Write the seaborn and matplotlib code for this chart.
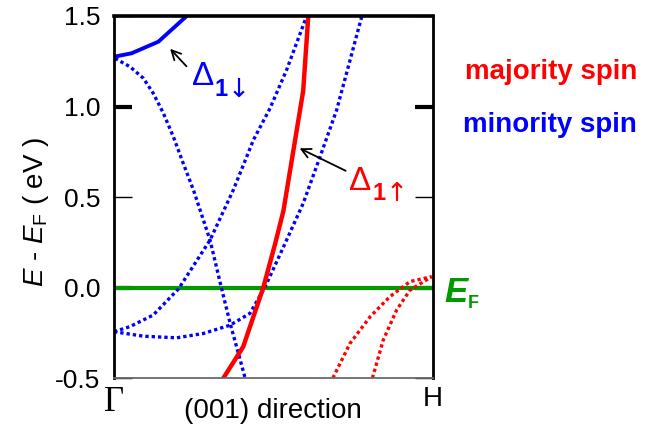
import numpy as np
import pandas as pd
import matplotlib
matplotlib.use("Agg")
import matplotlib.pyplot as plt
import seaborn as sns

# Band dispersion along Gamma -> H (k as fraction of the path), energies in eV
delta1_dn_k = [0.0, 0.055, 0.139, 0.228]
delta1_dn_e = [1.275, 1.294, 1.358, 1.50]

minority_a_k = [0.003, 0.050, 0.092, 0.123, 0.155, 0.186, 0.217, 0.249, 0.301, 0.337, 0.364, 0.411]
minority_a_e = [1.266, 1.220, 1.156, 1.073, 0.962, 0.833, 0.686, 0.539, 0.262, -0.004, -0.198, -0.50]

minority_b_k = [0.0, 0.050, 0.123, 0.202, 0.301, 0.374, 0.437, 0.489, 0.541, 0.604]
minority_b_e = [-0.244, -0.216, -0.152, -0.008, 0.262, 0.539, 0.815, 0.990, 1.202, 1.50]

minority_c_k = [0.0, 0.092, 0.196, 0.280, 0.364, 0.426, 0.468, 0.489, 0.541, 0.593, 0.646, 0.698, 0.740, 0.777]
minority_c_e = [-0.244, -0.269, -0.278, -0.254, -0.208, -0.143, -0.014, 0.062, 0.262, 0.465, 0.723, 0.981, 1.257, 1.50]

delta1_up_k = [0.343, 0.405, 0.468, 0.505, 0.531, 0.562, 0.593, 0.609]
delta1_up_e = [-0.50, -0.327, 0.0, 0.241, 0.423, 0.754, 1.086, 1.50]

majority_a_k = [0.686, 0.740, 0.803, 0.865, 0.928, 0.996]
majority_a_e = [-0.50, -0.308, -0.161, -0.050, 0.033, 0.060]

majority_b_k = [0.810, 0.844, 0.886, 0.928, 0.996]
majority_b_e = [-0.50, -0.290, -0.124, -0.014, 0.060]

y_major = [0.0, 1.0]
y_minor = [-0.5, 0.5, 1.5]
k_points = [0.0, 1.0]
k_labels = ["Γ", "H"]

sns.set_theme(style="white")
plt.rcParams["font.family"] = ["Liberation Sans", "DejaVu Sans"]
plt.rcParams["mathtext.fontset"] = "custom"
plt.rcParams["mathtext.rm"] = "Liberation Sans"
plt.rcParams["mathtext.it"] = "Liberation Sans:italic"
plt.rcParams["mathtext.bf"] = "Liberation Sans:bold:italic"

BLUE = "#0000ff"
RED = "#ff0000"
GREEN = "#009a00"

fig = plt.figure(figsize=(6.5, 4.3), dpi=100)
ax = fig.add_axes([0.1754, 0.1209, 0.4908, 0.8419])

dot = (0, (1, 0.9))


def band(k, e, color, lw, ls="-"):
    df = pd.DataFrame({"k": k, "E": e})
    sns.lineplot(data=df, x="k", y="E", ax=ax, color=color, lw=lw,
                 linestyle=ls, sort=False, estimator=None, legend=False)


ax.axhline(0.0, color=GREEN, lw=3, zorder=1)

band(minority_a_k, minority_a_e, BLUE, 2.4, dot)
band(minority_b_k, minority_b_e, BLUE, 2.4, dot)
band(minority_c_k, minority_c_e, BLUE, 2.4, dot)
band(majority_a_k, majority_a_e, RED, 2.4, dot)
band(majority_b_k, majority_b_e, RED, 2.4, dot)
band(delta1_dn_k, delta1_dn_e, BLUE, 2.8)
band(delta1_up_k, delta1_up_e, RED, 3.2)

ax.set_xlim(0, 1)
ax.set_ylim(-0.5, 1.5)

# Ticks: thick majors at 0 and 1, thin minors at the half-integers
ax.set_yticks(y_major)
ax.set_yticks(y_minor, minor=True)
ax.set_yticklabels([f"{v:.1f}" for v in y_major])
ax.set_yticklabels([f"{v:.1f}" for v in y_minor], minor=True)
ax.tick_params(axis="y", which="major", direction="in", length=13, width=3,
               left=True, right=True, labelsize=19, pad=10, colors="black")
ax.tick_params(axis="y", which="minor", direction="in", length=13, width=1,
               left=True, right=True, labelsize=19, pad=10, colors="black")
ax.set_xticks(k_points)
ax.set_xticklabels(k_labels)
ax.tick_params(axis="x", length=0, labelsize=20, pad=6, colors="black")
ax.get_xticklabels()[0].set_fontfamily("Liberation Serif")
ax.get_xticklabels()[0].set_fontsize(25)

for side in ["left", "right", "top", "bottom"]:
    ax.spines[side].set_visible(True)
ax.spines["top"].set_linewidth(2.6)
ax.spines["top"].set_color("black")
ax.spines["left"].set_linewidth(2.0)
ax.spines["left"].set_color("black")
ax.spines["right"].set_linewidth(2.0)
ax.spines["right"].set_color("black")
ax.spines["bottom"].set_linewidth(1.3)
ax.spines["bottom"].set_color("#6a6a6a")
ax.set_xlabel("")
ax.set_ylabel("")

# Band labels with arrows
arrow = dict(arrowstyle="->,head_length=0.55,head_width=0.28", color="black", lw=1.3)
ax.annotate("", xy=(0.170, 1.330), xytext=(0.233, 1.211), arrowprops=arrow)
ax.annotate("", xy=(0.574, 0.776), xytext=(0.734, 0.638), arrowprops=arrow)
ax.text(0.243, 1.119, "Δ", color=BLUE, fontsize=24, ha="left", va="baseline")
ax.text(0.316, 1.058, "1", color=BLUE, fontsize=17, fontweight="bold",
        ha="left", va="baseline")
ax.text(0.356, 1.052, "↓", color=BLUE, fontsize=19, family="DejaVu Sans",
        ha="left", va="baseline")
ax.text(0.738, 0.539, "Δ", color=RED, fontsize=24, ha="left", va="baseline")
ax.text(0.810, 0.483, "1", color=RED, fontsize=17, fontweight="bold",
        ha="left", va="baseline")
ax.text(0.850, 0.477, "↑", color=RED, fontsize=19, family="DejaVu Sans",
        ha="left", va="baseline")

# Figure-level labels
fig.text(0.715, 0.816, "majority spin", color=RED, fontsize=20,
         fontweight="bold", ha="left", va="baseline")
fig.text(0.712, 0.693, "minority spin", color=BLUE, fontsize=20,
         fontweight="bold", ha="left", va="baseline")
fig.text(0.683, 0.298, "E", color=GREEN, fontsize=25, fontweight="bold",
         fontstyle="italic", ha="left", va="baseline")
fig.text(0.720, 0.283, "F", color=GREEN, fontsize=13, fontweight="bold",
         ha="left", va="baseline")
fig.text(0.055, 0.507, r"$E$ - $E_{\rm F}$ ( eV )", rotation=90, fontsize=20,
         ha="center", va="center", color="black")
fig.text(0.42, 0.028, "(001) direction", fontsize=20, ha="center",
         va="baseline", color="black")

fig.savefig("out.png", dpi=100, facecolor="white")
